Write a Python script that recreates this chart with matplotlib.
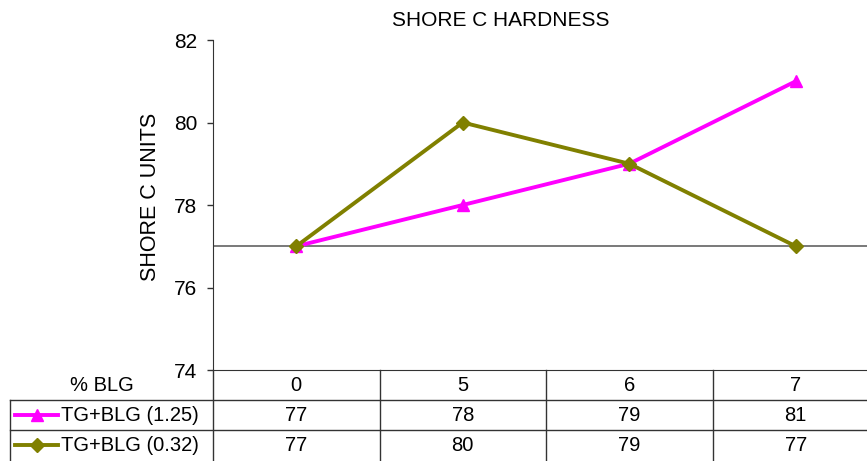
import matplotlib.pyplot as plt
from matplotlib.lines import Line2D

plt.rcParams['font.family'] = ['Liberation Sans', 'DejaVu Sans']

# % BLG categories and hardness readings
blg = ['0', '5', '6', '7']
tg_125 = [77, 78, 79, 81]
tg_032 = [77, 80, 79, 77]
names = ['TG+BLG (1.25)', 'TG+BLG (0.32)']
colors = ['#ff00ff', '#808000']
markers = ['^', 'D']
msizes = [9, 7]

W, H = 867, 461
fig = plt.figure(figsize=(W / 100, H / 100), dpi=100)

# plot area is wider than the sheet, last column runs off the right edge
left, top, bottom, width = 213, 40, 370, 666
ax = fig.add_axes([left / W, (H - bottom) / H, width / W, (bottom - top) / H])


def px(x):
    return (x - left) / width


def py(y):
    return (bottom - y) / (bottom - top)


x = list(range(len(blg)))
ax.axhline(77, color='#555555', lw=1.1, zorder=1)
for vals, c, m, ms in zip([tg_125, tg_032], colors, markers, msizes):
    ax.plot(x, vals, color=c, lw=2.8, marker=m, ms=ms, zorder=3)

ax.set_xlim(-0.5, len(blg) - 0.5)
ax.set_ylim(74, 82)
ax.set_yticks(range(74, 83, 2))
ax.set_xticks([])
ax.tick_params(axis='y', length=4.5, width=1, pad=7, labelsize=15, direction='out',
               color='#333333')
for s in ['top', 'right']:
    ax.spines[s].set_visible(False)
ax.spines['left'].set_color('#333333')
ax.spines['bottom'].set_color('#333333')

fig.text(501 / W, 1 - 21 / H, 'SHORE C HARDNESS', ha='center', va='center', fontsize=15)
fig.text(151 / W, 1 - 197 / H, 'SHORE C UNITS', ha='center', va='center',
         rotation=90, fontsize=15.5)

# data table under the plot (bottom edge is cut off by the sheet)
tr = ax.transAxes
row_h = 30
rows_y = [bottom + row_h * i for i in range(4)]
lk = dict(color='#333333', lw=1, transform=tr, clip_on=False)

for r in (1, 2):
    ax.add_line(Line2D([px(10), 1], [py(rows_y[r])] * 2, **lk))
ax.add_line(Line2D([px(10)] * 2, [py(rows_y[1]), py(rows_y[3] + 5)], **lk))
ax.add_line(Line2D([0, 0], [0, py(rows_y[3] + 5)], **lk))
for i in range(1, len(blg) + 1):
    xb = i / len(blg)
    ax.add_line(Line2D([xb, xb], [0, py(rows_y[3] + 5)], **lk))

fig_rows = [blg, tg_125, tg_032]
for r, vals in enumerate(fig_rows):
    yc = py((rows_y[r] + rows_y[r + 1]) / 2)
    for i, v in enumerate(vals):
        ax.text((i + 0.5) / len(blg), yc, str(v), transform=tr,
                ha='center', va='center', fontsize=14.5)

ax.text(px(102), py((rows_y[0] + rows_y[1]) / 2), '% BLG', transform=tr,
        ha='center', va='center', fontsize=14.5)
for r, (name, c, m, ms) in enumerate(zip(names, colors, markers, msizes)):
    yc = py((rows_y[r + 1] + rows_y[r + 2]) / 2)
    ax.add_line(Line2D([px(15), px(58)], [yc, yc], color=c, lw=2.8,
                       transform=tr, clip_on=False))
    ax.add_line(Line2D([px(37)], [yc], color=c, marker=m, ms=ms,
                       transform=tr, clip_on=False))
    ax.text(px(61), yc, name, transform=tr, ha='left', va='center', fontsize=14.5)

fig.savefig('out.png', dpi=100)
